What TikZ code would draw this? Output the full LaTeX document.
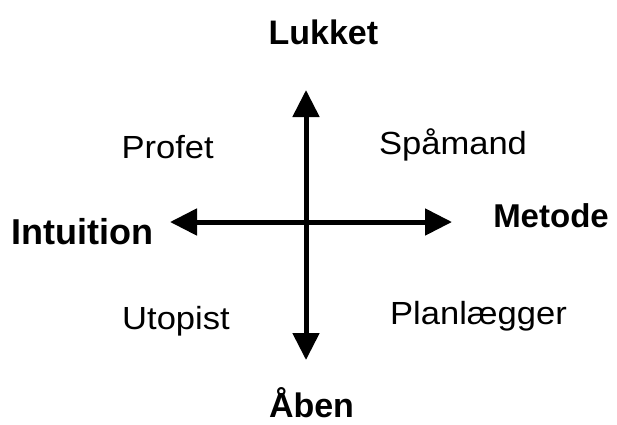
\documentclass[tikz,border=0pt]{standalone}
\usepackage{fontspec}
\setmainfont{Liberation Sans}
\usetikzlibrary{arrows.meta}
\begin{document}
\begin{tikzpicture}[x=1pt,y=-1pt,
  axis/.style={line width=5pt,{Triangle[length=27pt,width=26pt]}-{Triangle[length=27pt,width=26pt]}},
  boldlbl/.style={anchor=base,inner sep=0pt,font=\fontsize{34}{40}\selectfont\bfseries},
  lbl/.style={anchor=base,inner sep=0pt,xscale=1.08,font=\fontsize{32}{38}\selectfont}]
\useasboundingbox (0,0) rectangle (617,424);
\fill[white] (0,0) rectangle (617,424);
\coordinate (top) at (306,90);
\coordinate (bot) at (306,360);
\coordinate (lft) at (170,222);
\coordinate (rgt) at (452,222);
\draw[axis] (bot) -- (top);
\draw[axis] (lft) -- (rgt);
\node[boldlbl] (lukket) at (323.4,44.3) {Lukket};
\node[boldlbl] (aaben) at (311.5,417.3) {Åben};
\node[boldlbl,font=\fontsize{36}{42}\selectfont\bfseries] (intuition) at (82.2,244.3) {Intuition};
\node[boldlbl,font=\fontsize{33}{40}\selectfont\bfseries] (metode) at (551,227.7) {Metode};
\node[lbl] (profet) at (167.7,158) {Profet};
\node[lbl] (spaamand) at (453,154) {Spåmand};
\node[lbl] (utopist) at (176,329) {Utopist};
\node[lbl] (planl) at (478.5,324) {Planlægger};
\end{tikzpicture}
\end{document}
